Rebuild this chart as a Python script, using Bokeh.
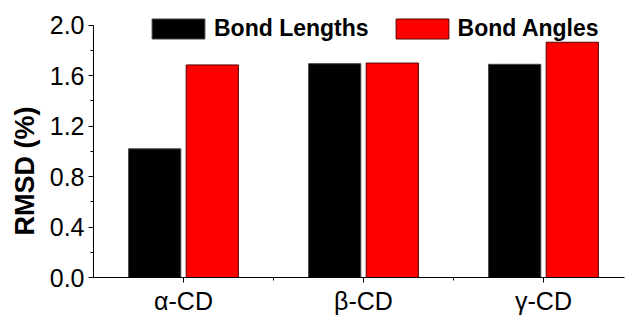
from bokeh.plotting import figure
from bokeh.models import FixedTicker, Range1d, Legend, LegendItem, PrintfTickFormatter, ColumnDataSource, Title
from bokeh.embed import file_html
from bokeh.resources import INLINE

categories = ["α-CD", "β-CD", "γ-CD"]
positions = [1, 2, 3]
bond_lengths = [1.02, 1.695, 1.69]
bond_angles = [1.685, 1.70, 1.865]
y_label = "RMSD (%)"

FONT = "Liberation Sans"

p = figure(width=625, height=317, output_backend="svg", toolbar_location=None,
           x_range=Range1d(0.5, 3.45), y_range=Range1d(0, 2.18),
           min_border_left=93, min_border_right=1, min_border_top=2, min_border_bottom=37)
p.outline_line_color = None
p.grid.visible = False
p.background_fill_color = "white"

off = 0.16
w = 0.29
src = ColumnDataSource(dict(
    xl=[x - off for x in positions], xr=[x + off for x in positions],
    bl=bond_lengths, ba=bond_angles))
r1 = p.vbar(x="xl", top="bl", width=w, source=src, fill_color="black", line_color="#444444", line_width=1)
r2 = p.vbar(x="xr", top="ba", width=w, source=src, fill_color="#ff0000", line_color="#550000", line_width=1)

xa = p.xaxis[0]
xa.ticker = FixedTicker(ticks=positions, minor_ticks=[1.5, 2.5])
xa.major_label_overrides = {pos: c for pos, c in zip(positions, categories)}
ya = p.yaxis[0]
ya.bounds = (0, 2.0)
ya.ticker = FixedTicker(ticks=[0, 0.4, 0.8, 1.2, 1.6, 2.0], minor_ticks=[0.2, 0.6, 1.0, 1.4, 1.8])
ya.formatter = PrintfTickFormatter(format="%.1f")

for ax in (xa, ya):
    ax.axis_line_color = "black"
    ax.axis_line_width = 1
    ax.major_tick_in = 0
    ax.major_tick_out = 5
    ax.minor_tick_in = 0
    ax.minor_tick_out = 3
    ax.major_tick_line_color = "black"
    ax.minor_tick_line_color = "black"
    ax.major_label_text_font = FONT
    ax.major_label_text_font_size = "25px"
    ax.major_label_text_color = "black"
    ax.major_label_standoff = 4

ytitle = Title(text=y_label, align="left", offset=42, standoff=14,
               text_font=FONT, text_font_style="bold", text_font_size="27px", text_color="black")
p.add_layout(ytitle, "left")

legend = Legend(items=[LegendItem(label="Bond Lengths", renderers=[r1]),
                       LegendItem(label="Bond Angles", renderers=[r2])],
                orientation="horizontal", location=(52, 235),
                glyph_width=66, glyph_height=25, label_height=20, label_standoff=3, spacing=20,
                label_text_font=FONT, label_text_font_style="bold", label_text_font_size="23px",
                label_text_color="black",
                padding=0, margin=0, border_line_color=None, background_fill_alpha=0)
p.add_layout(legend, "center")

open("out.html", "w").write(file_html(p, INLINE))
